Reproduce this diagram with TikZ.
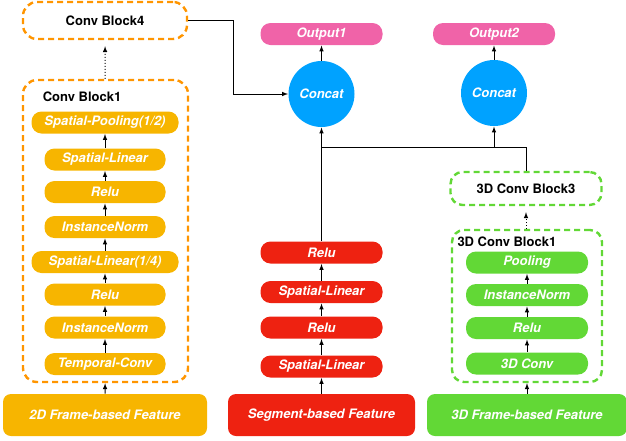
\documentclass[tikz,border=0pt]{standalone}
\usepackage{fontspec}
\setmainfont{TeX Gyre Heros}
\usetikzlibrary{arrows}
\definecolor{amber}{HTML}{F7B500}
\definecolor{tangerine}{HTML}{FF9500}
\definecolor{scarlet}{HTML}{EE2211}
\definecolor{lime}{HTML}{62D836}
\definecolor{rose}{HTML}{F063A8}
\definecolor{sky}{HTML}{00A2FF}
\tikzset{l/.style={font=\fontsize{13}{13}\selectfont\bfseries\itshape,text=white}}
\tikzset{hd/.style={font=\fontsize{13}{13}\selectfont\bfseries}}
\tikzset{pill/.style={l,rounded corners=10pt,minimum height=22pt,minimum width=121pt,inner sep=0pt}}
\tikzset{feat/.style={l,rounded corners=8pt,minimum height=42pt,inner sep=0pt}}
\tikzset{box/.style={line width=2.4pt,dash pattern=on 6pt off 4pt,rounded corners=14pt,inner sep=0pt}}
\tikzset{cat/.style={l,circle,fill=sky,minimum size=66pt,inner sep=0pt}}

\begin{document}
\begin{tikzpicture}[x=1pt,y=-1pt,>=latex,line width=1pt]
        \useasboundingbox (0,0) rectangle (626,440);
        % 2D frame branch
        \node[box,draw=tangerine,minimum width=164pt,minimum height=37pt,hd] (cb4) at (105,20.5) {Conv Block4};
        \node[box,draw=tangerine,minimum width=165pt,minimum height=302pt] (cb1) at (105.5,231) {};
        \node[hd,anchor=west] (cb1t) at (39,97) {Conv Block1};
        \node[pill,fill=amber,minimum width=147pt] (pool) at (105,122.5) {Spatial-Pooling(1/2)};
        \node[pill,fill=amber] (slb) at (105,159.5) {Spatial-Linear};
        \node[pill,fill=amber] (relub) at (105,192) {Relu};
        \node[pill,fill=amber] (inb) at (105,227) {InstanceNorm};
        \node[pill,fill=amber,minimum width=147pt] (sla) at (105,262) {Spatial-Linear(1/4)};
        \node[pill,fill=amber] (relua) at (105,294.5) {Relu};
        \node[pill,fill=amber] (ina) at (105,327.5) {InstanceNorm};
        \node[pill,fill=amber] (tconv) at (105,364) {Temporal-Conv};
        \node[feat,fill=amber,minimum width=204pt] (fd) at (105,415) {2D Frame-based Feature};
        \foreach \a/\b in {fd/cb1,tconv/ina,ina/relua,relua/sla,sla/inb,inb/relub,relub/slb,slb/pool}
          \draw[->] (\a) -- (\b);
        \draw[->,dotted,shorten >=6pt] (cb1) -- (cb4);

        % segment branch
        \node[pill,fill=scarlet,minimum width=122pt] (srelub) at (321.5,252.5) {Relu};
        \node[pill,fill=scarlet,minimum width=122pt] (sslb) at (321.5,292) {Spatial-Linear};
        \node[pill,fill=scarlet,minimum width=122pt] (srelua) at (321.5,327.5) {Relu};
        \node[pill,fill=scarlet,minimum width=122pt] (ssla) at (321.5,366.5) {Spatial-Linear};
        \node[feat,fill=scarlet,minimum width=187pt] (fs) at (321.5,415) {Segment-based Feature};
        \foreach \a/\b in {fs/ssla,ssla/srelua,srelua/sslb,sslb/srelub}
          \draw[->] (\a) -- (\b);

        % 3D frame branch
        \node[box,draw=lime,minimum width=151pt,minimum height=33pt,rounded corners=12pt,hd] (gb3) at (526,188.5) {3D Conv Block3};
        \node[box,draw=lime,minimum width=150pt,minimum height=152pt,rounded corners=12pt] (gb1) at (527,306) {};
        \node[hd,anchor=west,inner sep=0pt] (gb1t) at (457,242) {3D Conv Block1};
        \node[pill,fill=lime,minimum width=122pt] (gpool) at (527,262.5) {Pooling};
        \node[pill,fill=lime,minimum width=122pt] (gin) at (527,295) {InstanceNorm};
        \node[pill,fill=lime,minimum width=122pt] (grelu) at (527,328) {Relu};
        \node[pill,fill=lime,minimum width=122pt] (gconv) at (527,363.5) {3D Conv};
        \node[feat,fill=lime,minimum width=200pt] (f3) at (527,415) {3D Frame-based Feature};
        \foreach \a/\b in {f3/gb1,gconv/grelu,grelu/gin,gin/gpool}
          \draw[->] (\a) -- (\b);
        \draw[->,dotted,shorten >=6pt] (gb1.north -| gb3) -- (gb3);

        % heads
        \node[cat] (cat1) at (321.5,94) {Concat};
        \node[cat] (cat2) at (494,93) {Concat};
        \node[pill,fill=rose,minimum width=122pt] (out1) at (321.5,34) {Output1};
        \node[pill,fill=rose,minimum width=122pt] (out2) at (494,34) {Output2};
        \coordinate (j1) at (321.5,147);
        \coordinate (j2) at (494,147);
        \draw[->] (cat1) -- (out1);
        \draw[->] (cat2) -- (out2);
        \draw[->] (srelub) -- (cat1);
        \draw (gb3) |- (j1);
        \draw[->] (j2) -- (cat2);
        \draw[->] (cb4.east) -- ++(45,0) |- (cat1.west);
      \end{tikzpicture}
\end{document}
